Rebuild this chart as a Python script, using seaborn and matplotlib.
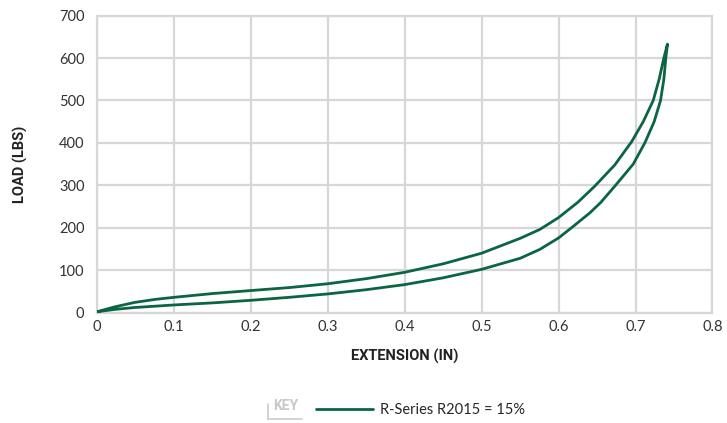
import matplotlib
matplotlib.use("Agg")
import matplotlib.pyplot as plt
from matplotlib.lines import Line2D
import seaborn as sns
import pandas as pd

# loading curve (goes up) and unloading curve (comes back down)
load_x = [0, 0.012, 0.023, 0.049, 0.075, 0.1, 0.151, 0.2, 0.25, 0.3, 0.35, 0.4,
          0.45, 0.5, 0.55, 0.5756, 0.6, 0.625, 0.647, 0.673, 0.695, 0.71,
          0.723, 0.7307, 0.7368, 0.7415]
load_y = [2, 8, 13.5, 24, 31, 36, 45, 52, 59, 68, 80, 95,
          115, 140, 175, 196, 224, 260, 298, 348, 403, 450,
          500, 550, 600, 633]
unload_x = [0.7415, 0.7394, 0.7368, 0.7325, 0.7242, 0.7121, 0.697, 0.674,
            0.655, 0.6406, 0.6168, 0.6, 0.5756, 0.55, 0.5, 0.45, 0.4, 0.35,
            0.3, 0.25, 0.2, 0.151, 0.1, 0.049, 0.023, 0]
unload_y = [633, 600, 550, 500, 450, 400, 350, 300,
            260, 235, 200, 176, 149, 128, 102, 82, 66, 54,
            44, 36, 29, 23, 18, 12, 7.5, 2]

x_ticks = [0, 0.1, 0.2, 0.3, 0.4, 0.5, 0.6, 0.7, 0.8]
x_tick_labels = ["0", "0.1", "0.2", "0.3", "0.4", "0.5", "0.6", "0.7", "0.8"]
y_ticks = [0, 100, 200, 300, 400, 500, 600, 700]

series_name = "R-Series R2015 = 15%"
green = "#0b6543"
grid_grey = "#d7d7d7"

df = pd.DataFrame({"ext": load_x + unload_x, "load": load_y + unload_y})

sns.set_theme(style="white")
plt.rcParams["font.family"] = ["Lato", "DejaVu Sans"]

fig = plt.figure(figsize=(7.27, 4.23), dpi=100)
ax = fig.add_axes([0.1334, 0.261, 0.8466, 0.702])

sns.lineplot(data=df, x="ext", y="load", sort=False, estimator=None,
             color=green, linewidth=2.0, ax=ax, zorder=3,
             solid_joinstyle="round", solid_capstyle="round")

ax.set_xlim(0, 0.8)
ax.set_ylim(0, 700)
ax.set_xticks(x_ticks)
ax.set_xticklabels(x_tick_labels)
ax.set_yticks(y_ticks)
ax.grid(True, color=grid_grey, linewidth=1.6)
for s in ax.spines.values():
    s.set_visible(True)
    s.set_color(grid_grey)
    s.set_linewidth(1.6)
ax.tick_params(axis="both", length=0, labelsize=10.5, colors="#333333")
ax.tick_params(axis="y", pad=9)
ax.tick_params(axis="x", pad=5)

lab_font = dict(family=["Roboto", "DejaVu Sans"], fontweight="bold",
                fontsize=10.5, color="#222222")
ax.set_xlabel("EXTENSION (IN)", labelpad=11, **lab_font)
ax.set_ylabel("LOAD (LBS)", labelpad=22, **lab_font)

# key below the chart
fig.text(0.376, 0.030, "KEY", fontsize=10, color="#c8c8c8",
         fontweight="bold", family=["Roboto", "DejaVu Sans"])
fig.add_artist(Line2D([0.369, 0.369], [0.010, 0.045], color="#cccccc", lw=1.2))
fig.add_artist(Line2D([0.369, 0.415], [0.010, 0.010], color="#cccccc", lw=1.2))
handle = Line2D([], [], color=green, linewidth=2.0)
fig.legend([handle], [series_name], loc="center left",
           bbox_to_anchor=(0.425, 0.031), frameon=False, fontsize=10.5,
           handlelength=3.9, handletextpad=0.5, borderpad=0)

fig.savefig("out.png", dpi=100)
